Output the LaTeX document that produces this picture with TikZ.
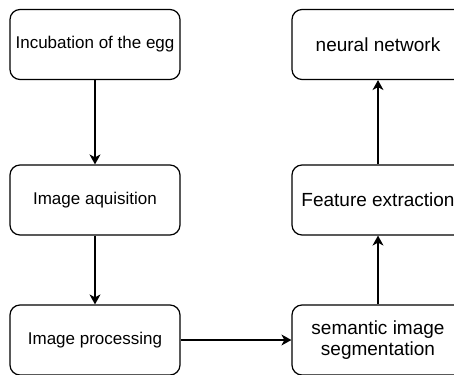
\documentclass[tikz,border=0pt]{standalone}
\usepackage{fontspec}
\setmainfont{Liberation Sans}
\usetikzlibrary{arrows.meta}

\tikzset{
  stepbox/.style={draw, line width=1.2pt, rounded corners=10pt,
    minimum width=170pt, minimum height=70pt, align=center, inner sep=0pt},
  small/.style={font=\fontsize{17}{20}\selectfont},
  large/.style={font=\fontsize{19}{21}\selectfont},
  flow/.style={-{Stealth[length=10pt, width=11pt, inset=3pt]}, line width=1.2pt}
}

\begin{document}
\begin{tikzpicture}[x=1pt, y=-1pt]
  \useasboundingbox (0,0) rectangle (454,374);
  % left column
  \node[stepbox, small] (egg) at (95, 44.5) {Incubation of the egg};
  \node[stepbox, small] (acq) at (95, 200) {Image aquisition};
  \node[stepbox, small] (proc) at (95, 340) {Image processing};
  % right column
  \node[stepbox, large, minimum width=172pt] (seg) at (378, 340) {semantic image\\segmentation};
  \node[stepbox, large, minimum width=172pt] (feat) at (378, 200) {Feature extraction};
  \node[stepbox, large, minimum width=172pt] (net) at (378, 44.5) {neural network};
  % arrows
  \draw[flow] (egg) -- (acq);
  \draw[flow] (acq) -- (proc);
  \draw[flow] (proc) -- (seg);
  \draw[flow] (seg) -- (feat);
  \draw[flow] (feat) -- (net);
\end{tikzpicture}
\end{document}
